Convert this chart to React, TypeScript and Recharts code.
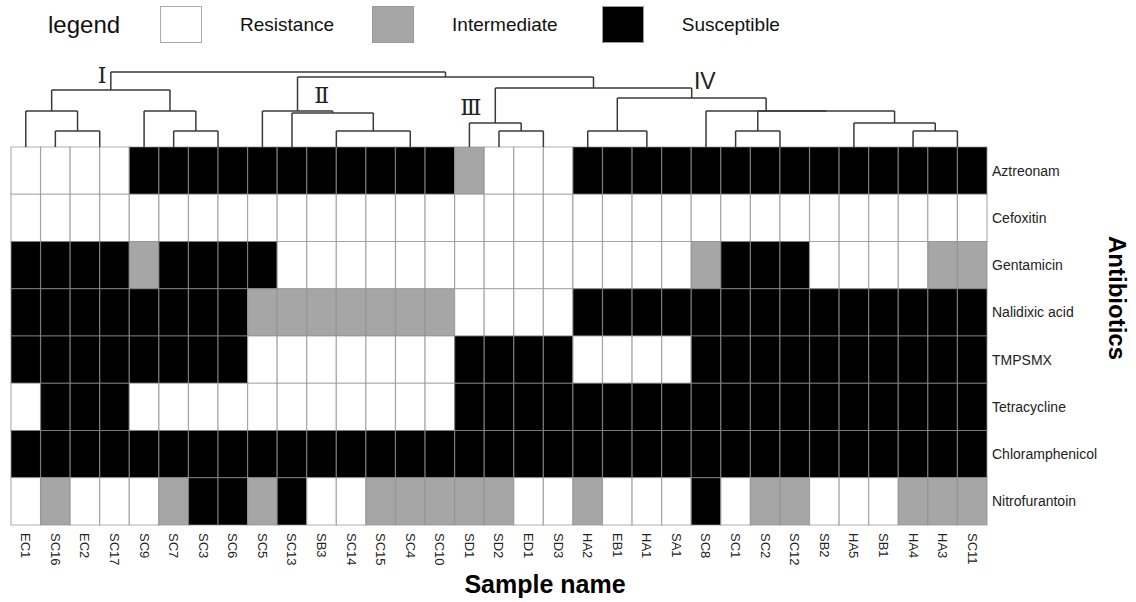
import React from "react"
import {
  ComposedChart,
  XAxis,
  YAxis,
  ReferenceArea,
  ReferenceLine,
  ReferenceDot,
  Legend,
  Label,
} from "recharts"

const samples = [
  "EC1", "SC16", "EC2", "SC17", "SC9", "SC7", "SC3", "SC6", "SC5", "SC13", "SB3",
  "SC14", "SC15", "SC4", "SC10", "SD1", "SD2", "ED1", "SD3", "HA2", "EB1", "HA1",
  "SA1", "SC8", "SC1", "SC2", "SC12", "SB2", "HA5", "SB1", "HA4", "HA3", "SC11",
]

const antibiotics = [
  "Aztreonam",
  "Cefoxitin",
  "Gentamicin",
  "Nalidixic acid",
  "TMPSMX",
  "Tetracycline",
  "Chloramphenicol",
  "Nitrofurantoin",
]

// one letter per sample (same order as samples): R resistance, I intermediate, S susceptible
const aztreonam = "RRRR SSSSSSSSSSS I RRR SSSSSSSSSSSSSS"
const cefoxitin = "RRRRRRRRRRRRRRRRRRRRRRRRRRRRRRRRR"
const gentamicin = "SSSS I SSSS RRRRRRRRRRRRRR I SSS RRRR II"
const nalidixicAcid = "SSSSSSSS IIIIIII RRRR SSSSSSSSSSSSSS"
const tmpsmx = "SSSSSSSS RRRRRRR SSSS RRRR SSSSSSSSSS"
const tetracycline = "R SSS RRRRRRRRRRR SSSSSSSSSSSSSSSSSS"
const chloramphenicol = "SSSSSSSSSSSSSSSSSSSSSSSSSSSSSSSSS"
const nitrofurantoin = "RIRRR ISSIS RRIII IIRRI RRRSR IIRRR III"

const rows = [
  aztreonam,
  cefoxitin,
  gentamicin,
  nalidixicAcid,
  tmpsmx,
  tetracycline,
  chloramphenicol,
  nitrofurantoin,
].map((r) => r.replace(/ /g, "").split(""))

const states = ["Resistance", "Intermediate", "Susceptible"]
const stateCodes = ["R", "I", "S"]
const stateColors = ["#ffffff", "#a6a6a6", "#000000"]

// dendrogram: leaves are groups of identical profiles, merges are [left, right, height]
const leaves = [
  ["EC1"], ["SC16"], ["EC2", "SC17"], ["SC9"], ["SC7"], ["SC3", "SC6"], ["SC5"],
  ["SC13"], ["SB3", "SC14"], ["SC15", "SC4", "SC10"], ["SD1"], ["SD2"], ["ED1", "SD3"],
  ["HA2"], ["EB1", "HA1", "SA1"], ["SC8"], ["SC1"], ["SC2", "SC12"], ["SB2", "HA5", "SB1"],
  ["HA4"], ["HA3", "SC11"],
]

const merges = [
  [1, 2, 16], // 21
  [0, 21, 36], // 22
  [4, 5, 16], // 23
  [3, 23, 36], // 24
  [22, 24, 57], // 25  cluster I
  [8, 9, 16], // 26
  [7, 26, 34], // 27
  [6, 27, 36], // 28  cluster II
  [11, 12, 16], // 29
  [10, 29, 24], // 30  cluster III
  [13, 14, 16], // 31
  [16, 17, 16], // 32
  [19, 20, 16], // 33
  [18, 33, 24], // 34
  [32, 34, 36], // 35
  [15, 35, 36], // 36
  [31, 36, 49], // 37  cluster IV
  [30, 37, 59], // 38
  [28, 38, 70], // 39
  [25, 39, 75], // 40
]

const clusterLabels = [
  { text: "Ⅰ", x: 3.08, h: 72, serif: true },
  { text: "Ⅱ", x: 10.51, h: 52, serif: true },
  { text: "Ⅲ", x: 15.55, h: 40, serif: true },
  { text: "IV", x: 23.46, h: 66, serif: false },
]

const nodeX: number[] = leaves.map((g) => samples.indexOf(g[0]) + g.length / 2)
const nodeH: number[] = leaves.map(() => 0)
const segments: { x: number; y: number }[][] = []
merges.forEach(([a, b, h]) => {
  segments.push([{ x: nodeX[a], y: nodeH[a] }, { x: nodeX[a], y: h }])
  segments.push([{ x: nodeX[b], y: nodeH[b] }, { x: nodeX[b], y: h }])
  segments.push([{ x: nodeX[a], y: h }, { x: nodeX[b], y: h }])
  nodeX.push((nodeX[a] + nodeX[b]) / 2)
  nodeH.push(h)
})

const sans = "'Liberation Sans', Arial, sans-serif"

const SampleTick = (props: any) => {
  const { x, y, payload } = props
  return (
    <text
      x={x}
      y={y}
      dy="0.35em"
      transform={`rotate(90, ${x}, ${y})`}
      textAnchor="start"
      fontSize={13}
      fontFamily={sans}
      fill="#222"
    >
      {samples[Math.floor(payload.value)]}
    </text>
  )
}

const DrugTick = (props: any) => {
  const { x, y, payload } = props
  return (
    <text x={x} y={y} dy="0.35em" textAnchor="start" fontSize={14} fontFamily={sans} fill="#222">
      {antibiotics[antibiotics.length - 1 - Math.floor(payload.value)]}
    </text>
  )
}

const LegendBox = () => (
  <div style={{ display: "flex", alignItems: "center", fontFamily: sans, color: "#111" }}>
    <span style={{ fontSize: 24, marginRight: 40 }}>legend</span>
    {states.map((s, i) => (
      <React.Fragment key={s}>
        <span
          style={{
            display: "inline-block",
            width: 42,
            height: 37,
            boxSizing: "border-box",
            background: stateColors[i],
            border: i === 0 ? "1.5px solid #aaa" : "1px solid #999",
            marginRight: 38,
          }}
        />
        <span style={{ fontSize: 19, marginRight: i === 1 ? 44 : 38 }}>{s}</span>
      </React.Fragment>
    ))}
  </div>
)

const App = () => {
  return (
    <div style={{ position: "absolute", left: 0, top: 0, width: 1136, height: 602, background: "#fff" }}>
      <div style={{ position: "absolute", left: 0, top: 0 }}>
        <ComposedChart width={1136} height={602} margin={{ top: 147, right: 0, bottom: 0, left: 11 }}>
          <XAxis
            type="number"
            dataKey="x"
            domain={[0, samples.length]}
            ticks={samples.map((_, i) => i + 0.5)}
            interval={0}
            allowDataOverflow
            height={77}
            axisLine={false}
            tickLine={false}
            tickSize={0}
            tickMargin={8}
            tick={<SampleTick />}
          >
            <Label
              content={(p: any) => {
                const vb = p.viewBox
                return (
                  <text
                    x={vb.x + vb.width / 2 + 46}
                    y={vb.y + 68}
                    textAnchor="middle"
                    fontSize={25}
                    fontWeight="bold"
                    fontFamily={sans}
                    fill="#000"
                  >
                    Sample name
                  </text>
                )
              }}
            />
          </XAxis>
          <YAxis
            type="number"
            orientation="right"
            domain={[0, antibiotics.length]}
            ticks={antibiotics.map((_, i) => i + 0.5)}
            interval={0}
            allowDataOverflow
            width={149}
            axisLine={false}
            tickLine={false}
            tickSize={0}
            tickMargin={5}
            tick={<DrugTick />}
          >
            <Label
              content={(p: any) => {
                const vb = p.viewBox
                const x = vb.x + 130
                const y = vb.y + vb.height / 2 - 38
                return (
                  <text
                    x={x}
                    y={y}
                    dy="0.35em"
                    transform={`rotate(90, ${x}, ${y})`}
                    textAnchor="middle"
                    fontSize={24}
                    fontWeight="bold"
                    fontFamily={sans}
                    fill="#000"
                  >
                    Antibiotics
                  </text>
                )
              }}
            />
          </YAxis>
          {rows.map((row, r) =>
            row.map((code, c) => (
              <ReferenceArea
                key={`${r}-${c}`}
                x1={c}
                x2={c + 1}
                y1={antibiotics.length - r - 1}
                y2={antibiotics.length - r}
                fill={stateColors[stateCodes.indexOf(code)]}
                fillOpacity={1}
                stroke="#909090"
                strokeOpacity={0.7}
                strokeWidth={1.2}
              />
            ))
          )}
        </ComposedChart>
      </div>
      <div style={{ position: "absolute", left: 0, top: 0 }}>
        <ComposedChart width={1136} height={147} margin={{ top: 72, right: 149, bottom: 0, left: 11 }}>
          <XAxis type="number" dataKey="x" domain={[0, samples.length]} allowDataOverflow hide />
          <YAxis type="number" domain={[0, 75]} allowDataOverflow hide />
          <Legend
            layout="horizontal"
            verticalAlign="middle"
            align="center"
            content={() => <LegendBox />}
            wrapperStyle={{ top: 6, left: 48, width: 900 }}
          />
          {segments.map((s, i) => (
            <ReferenceLine
              key={i}
              segment={s}
              stroke="#3a3a3a"
              strokeWidth={1.5}
              ifOverflow="visible"
            />
          ))}
          {clusterLabels.map((c) => (
            <ReferenceDot
              key={c.text}
              x={c.x}
              y={c.h}
              r={0}
              fill="none"
              stroke="none"
              ifOverflow="visible"
              label={{
                value: c.text,
                position: "center",
                fontSize: c.serif ? 22 : 23,
                fill: "#222",
                fontFamily: c.serif ? "'DejaVu Serif', 'Liberation Serif', serif" : sans,
              }}
            />
          ))}
        </ComposedChart>
      </div>
    </div>
  )
}

export default App
